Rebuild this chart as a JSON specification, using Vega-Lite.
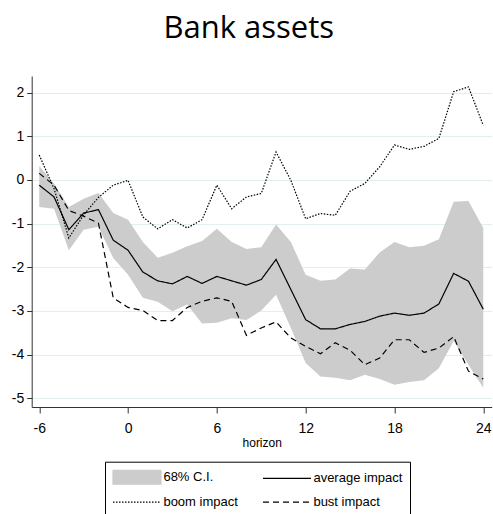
{
  "$schema": "https://vega.github.io/schema/vega-lite/v6.json",
  "width": 460,
  "height": 331,
  "autosize": "none",
  "padding": {"left": 31.7, "top": 76, "right": 1.3, "bottom": 107},
  "background": "white",
  "title": {"text": "Bank assets", "font": "Open Sans", "fontSize": 31, "fontWeight": "normal", "color": "black", "anchor": "middle", "frame": "group", "dx": -13, "offset": 31},
  "data": {"values": [
    {"h": -6, "lower": -0.62, "upper": 0.32, "average impact": -0.12, "boom impact": 0.57, "bust impact": 0.15},
    {"h": -5, "lower": -0.66, "upper": -0.08, "average impact": -0.39, "boom impact": -0.2, "bust impact": -0.12},
    {"h": -4, "lower": -1.61, "upper": -0.62, "average impact": -1.14, "boom impact": -1.33, "bust impact": -0.7},
    {"h": -3, "lower": -1.14, "upper": -0.43, "average impact": -0.76, "boom impact": -0.8, "bust impact": -0.83},
    {"h": -2, "lower": -1.07, "upper": -0.3, "average impact": -0.68, "boom impact": -0.4, "bust impact": -0.99},
    {"h": -1, "lower": -1.79, "upper": -0.76, "average impact": -1.38, "boom impact": -0.12, "bust impact": -2.7},
    {"h": 0, "lower": -2.17, "upper": -0.91, "average impact": -1.61, "boom impact": -0.01, "bust impact": -2.92},
    {"h": 1, "lower": -2.7, "upper": -1.42, "average impact": -2.11, "boom impact": -0.85, "bust impact": -2.99},
    {"h": 2, "lower": -2.79, "upper": -1.78, "average impact": -2.31, "boom impact": -1.12, "bust impact": -3.22},
    {"h": 3, "lower": -3.01, "upper": -1.67, "average impact": -2.38, "boom impact": -0.91, "bust impact": -3.22},
    {"h": 4, "lower": -2.85, "upper": -1.52, "average impact": -2.21, "boom impact": -1.1, "bust impact": -2.92},
    {"h": 5, "lower": -3.29, "upper": -1.4, "average impact": -2.37, "boom impact": -0.91, "bust impact": -2.78},
    {"h": 6, "lower": -3.27, "upper": -1.12, "average impact": -2.21, "boom impact": -0.12, "bust impact": -2.7},
    {"h": 7, "lower": -3.17, "upper": -1.42, "average impact": -2.31, "boom impact": -0.66, "bust impact": -2.78},
    {"h": 8, "lower": -3.21, "upper": -1.58, "average impact": -2.41, "boom impact": -0.39, "bust impact": -3.56},
    {"h": 9, "lower": -2.99, "upper": -1.54, "average impact": -2.28, "boom impact": -0.31, "bust impact": -3.39},
    {"h": 10, "lower": -2.63, "upper": -1.02, "average impact": -1.82, "boom impact": 0.64, "bust impact": -3.25},
    {"h": 11, "lower": -3.39, "upper": -1.42, "average impact": -2.51, "boom impact": -0.01, "bust impact": -3.62},
    {"h": 12, "lower": -4.19, "upper": -2.17, "average impact": -3.2, "boom impact": -0.89, "bust impact": -3.81},
    {"h": 13, "lower": -4.5, "upper": -2.31, "average impact": -3.41, "boom impact": -0.77, "bust impact": -3.98},
    {"h": 14, "lower": -4.53, "upper": -2.28, "average impact": -3.41, "boom impact": -0.81, "bust impact": -3.73},
    {"h": 15, "lower": -4.59, "upper": -2.03, "average impact": -3.31, "boom impact": -0.26, "bust impact": -3.9},
    {"h": 16, "lower": -4.46, "upper": -2.05, "average impact": -3.24, "boom impact": -0.08, "bust impact": -4.23},
    {"h": 17, "lower": -4.56, "upper": -1.66, "average impact": -3.12, "boom impact": 0.3, "bust impact": -4.08},
    {"h": 18, "lower": -4.69, "upper": -1.42, "average impact": -3.05, "boom impact": 0.8, "bust impact": -3.66},
    {"h": 19, "lower": -4.63, "upper": -1.54, "average impact": -3.1, "boom impact": 0.7, "bust impact": -3.66},
    {"h": 20, "lower": -4.59, "upper": -1.51, "average impact": -3.05, "boom impact": 0.77, "bust impact": -3.95},
    {"h": 21, "lower": -4.31, "upper": -1.36, "average impact": -2.84, "boom impact": 0.95, "bust impact": -3.85},
    {"h": 22, "lower": -3.69, "upper": -0.5, "average impact": -2.14, "boom impact": 2.02, "bust impact": -3.59},
    {"h": 23, "lower": -4.23, "upper": -0.48, "average impact": -2.32, "boom impact": 2.13, "bust impact": -4.38},
    {"h": 24, "lower": -4.76, "upper": -1.1, "average impact": -2.96, "boom impact": 1.25, "bust impact": -4.56}
  ]},
  "encoding": {
    "x": {"field": "h", "type": "quantitative",
      "scale": {"domain": [-6.51, 24.57], "nice": false, "zero": false},
      "axis": {"values": [-6, 0, 6, 12, 18, 24], "title": "horizon", "grid": false,
        "labelExpr": "datum.value < 0 ? '-' + abs(datum.value) : '' + datum.value",
        "labelFont": "Liberation Sans", "labelFontSize": 14, "labelColor": "black", "labelPadding": 8,
        "titleFont": "Liberation Sans", "titleFontSize": 12, "titleFontWeight": "normal", "titleColor": "black", "titlePadding": 2,
        "tickSize": 6, "tickColor": "#333333", "domainColor": "#333333", "labelFlush": false}}
  },
  "layer": [
    {
      "mark": {"type": "area", "opacity": 1},
      "encoding": {
        "y": {"field": "lower", "type": "quantitative",
          "scale": {"domain": [-5.2, 2.38], "nice": false, "zero": false},
          "axis": {"values": [-5, -4, -3, -2, -1, 0, 1, 2], "title": null, "grid": true, "gridColor": "#e3eef0",
            "labelExpr": "datum.value < 0 ? '-' + abs(datum.value) : '' + datum.value",
            "labelFont": "Liberation Sans", "labelFontSize": 14, "labelColor": "black", "labelPadding": 3,
            "tickSize": 5, "tickColor": "#333333", "domainColor": "#333333", "labelFlush": false}},
        "y2": {"field": "upper"},
        "color": {"datum": "68% C.I.", "type": "nominal",
          "scale": {"domain": ["68% C.I.", "average impact", "boom impact", "bust impact"], "range": ["#cccccc", "black", "black", "black"]},
          "legend": {
            "title": null, "orient": "none", "legendX": 73.3, "legendY": 385.7, "columns": 2, "direction": "horizontal",
            "strokeColor": "black", "padding": 7, "columnPadding": 22, "rowPadding": 7,
            "symbolSize": 225, "labelOffset": 34.4,
            "labelFont": "Liberation Sans", "labelFontSize": 13, "labelColor": "black",
            "encode": {
              "symbols": {"update": {
                "shape": {"signal": "datum.value === '68% C.I.' ? 'M-1,-0.93H5.4V0.93H-1Z' : 'M-1,0H5.4'"},
                "size": {"value": 225},
                "fill": {"signal": "datum.value === '68% C.I.' ? '#cccccc' : 'transparent'"},
                "stroke": {"signal": "datum.value === '68% C.I.' ? '#cccccc' : 'black'"},
                "strokeDash": {"signal": "datum.value === 'boom impact' ? [1.5, 1.5] : datum.value === 'bust impact' ? [6, 4] : [1, 0]"},
                "strokeWidth": {"value": 1.2},
                "opacity": {"value": 1}
              }}
            }
          }
        }
      }
    },
    {
      "transform": [{"fold": ["average impact", "boom impact", "bust impact"], "as": ["series", "value"]}],
      "mark": {"type": "line", "strokeWidth": 1.2},
      "encoding": {
        "y": {"field": "value", "type": "quantitative"},
        "color": {"field": "series", "type": "nominal",
          "scale": {"domain": ["68% C.I.", "average impact", "boom impact", "bust impact"], "range": ["#cccccc", "black", "black", "black"]},
          "legend": {
            "title": null, "orient": "none", "legendX": 73.3, "legendY": 385.7, "columns": 2, "direction": "horizontal",
            "strokeColor": "black", "padding": 7, "columnPadding": 22, "rowPadding": 7,
            "symbolSize": 225, "labelOffset": 34.4,
            "labelFont": "Liberation Sans", "labelFontSize": 13, "labelColor": "black",
            "encode": {
              "symbols": {"update": {
                "shape": {"signal": "datum.value === '68% C.I.' ? 'M-1,-0.93H5.4V0.93H-1Z' : 'M-1,0H5.4'"},
                "size": {"value": 225},
                "fill": {"signal": "datum.value === '68% C.I.' ? '#cccccc' : 'transparent'"},
                "stroke": {"signal": "datum.value === '68% C.I.' ? '#cccccc' : 'black'"},
                "strokeDash": {"signal": "datum.value === 'boom impact' ? [1.5, 1.5] : datum.value === 'bust impact' ? [6, 4] : [1, 0]"},
                "strokeWidth": {"value": 1.2},
                "opacity": {"value": 1}
              }}
            }
          }
        },
        "strokeDash": {"field": "series", "type": "nominal", "legend": null,
          "scale": {"domain": ["average impact", "boom impact", "bust impact"], "range": [[1, 0], [1.5, 1.5], [6, 4]]}}
      }
    }
  ],
  "resolve": {"scale": {"color": "shared"}},
  "config": {
    "view": {"stroke": null}
  }
}
